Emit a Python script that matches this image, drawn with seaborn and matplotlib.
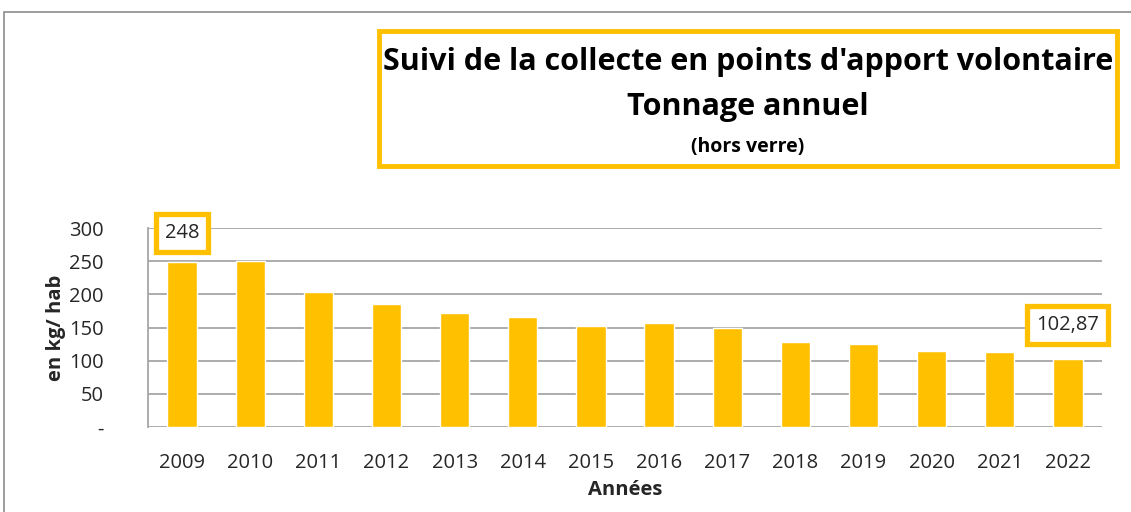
import matplotlib
matplotlib.use("Agg")
import matplotlib.pyplot as plt
import seaborn as sns
import pandas as pd
from matplotlib.patches import Rectangle

years = ["2009", "2010", "2011", "2012", "2013", "2014", "2015", "2016",
         "2017", "2018", "2019", "2020", "2021", "2022"]
values = [248, 250, 204, 185, 171.5, 166, 153, 157, 150, 128, 124.7, 115, 113, 102.87]
labels = {0: "248", 13: "102,87"}
yticks = [0, 50, 100, 150, 200, 250, 300]
ytick_labels = ["-", "50", "100", "150", "200", "250", "300"]

sns.set_theme(style="white")
plt.rcParams['font.family'] = ['Open Sans', 'DejaVu Sans']

W, H = 1131, 512
fig = plt.figure(figsize=(W / 100, H / 100), dpi=100)
ax = fig.add_axes([148 / W, (H - 427) / H, 954 / W, 199 / H])

df = pd.DataFrame({"year": years, "value": values})
sns.barplot(data=df, x="year", y="value", color="#FFC000", saturation=1,
            width=0.43, ax=ax, zorder=3)

ax.set_ylim(0, 300)
ax.set_xlim(-0.5, 13.5)
ax.set_yticks(yticks)
ax.set_yticklabels(ytick_labels)
ax.yaxis.grid(True, color="#A6A6A6", linewidth=1.3, zorder=0)
ax.set_axisbelow(True)
for s in ["top", "right", "bottom"]:
    ax.spines[s].set_visible(False)
ax.spines["left"].set_color("#A6A6A6")
ax.spines["left"].set_linewidth(1.3)
ax.tick_params(axis="y", labelsize=14.5, colors="#262626", length=0, pad=32)
ax.tick_params(axis="x", labelsize=14.5, colors="#262626", length=0, pad=19)
for t in ax.get_yticklabels():
    t.set_horizontalalignment("right")
ax.set_xlabel("Années", fontsize=14.5, fontweight="bold", color="#262626", labelpad=5)
ax.set_ylabel("en kg/ hab", fontsize=14.5, fontweight="bold", color="#262626", labelpad=2)

offsets = {0: 21, 13: 24.5}
for i, txt in labels.items():
    ax.annotate(txt, (i, values[i]), xytext=(0, offsets[i]), textcoords="offset points",
                ha="center", va="center", fontsize=14.5, color="#262626", zorder=5,
                bbox=dict(boxstyle="square,pad=0.45", fc="white", ec="#FFC000", lw=3.8))

# outer frame
fig.patches.append(Rectangle((4 / W, -0.1), 1.2, (H - 12) / H + 0.1, transform=fig.transFigure,
                             fill=False, ec="#8C8C8C", lw=1.2))
# title box
fig.patches.append(Rectangle((379 / W, (H - 166) / H), 738 / W, 135 / H,
                             transform=fig.transFigure, fill=False, ec="#FFC000", lw=3.5))
cx = 748 / W
fig.text(cx, (H - 62) / H, "Suivi de la collecte en points d'apport volontaire",
         ha="center", va="center", fontsize=22, fontweight="bold", color="black")
fig.text(cx, (H - 107) / H, "Tonnage annuel", ha="center", va="center",
         fontsize=22, fontweight="bold", color="black")
fig.text(cx, (H - 147) / H, "(hors verre)", ha="center", va="center",
         fontsize=14, fontweight="bold", color="black")

fig.savefig("out.png", dpi=100)
